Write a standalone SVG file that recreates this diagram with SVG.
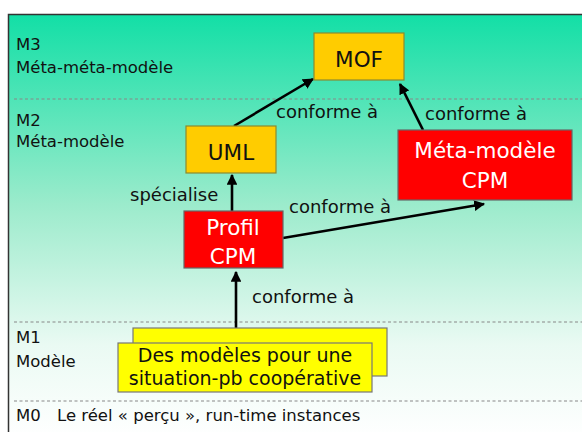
<svg xmlns="http://www.w3.org/2000/svg" width="582" height="432" viewBox="0 0 582 432">
<defs>
<linearGradient id="bg" x1="0" y1="0" x2="0" y2="1">
<stop offset="0" stop-color="#12DFA6"/>
<stop offset="0.45" stop-color="#9CEBCC"/>
<stop offset="0.78" stop-color="#EAFAF3"/>
<stop offset="1" stop-color="#FFFFFF"/>
</linearGradient>
<marker id="ah" viewBox="0 0 10 10" refX="9" refY="5" markerWidth="4.2" markerHeight="4.2" orient="auto" markerUnits="strokeWidth">
<path d="M0,0 L10,5 L0,10 z" fill="#000"/>
</marker>
</defs>
<style>
text{font-family:"DejaVu Sans",Verdana,sans-serif;fill:#111}
.lvl{font-size:16.5px}
.lbl{font-size:18px}
.node{font-size:21.5px;text-anchor:middle}
.w{fill:#fff}
.yel{fill:#FFCC00;stroke:#8A8A30;stroke-width:1.2}
.red{fill:#FF0000;stroke:#666;stroke-width:1.2}
.lem{fill:#FFFF00;stroke:#777;stroke-width:1.2}
.dash{stroke:#888;stroke-width:1.2;stroke-dasharray:3,2.5}
.con{stroke:#000;stroke-width:2.6;fill:none;marker-end:url(#ah)}
</style>
<rect x="0" y="0" width="582" height="432" fill="#fff"/>
<rect x="8" y="14" width="580" height="425" fill="url(#bg)"/>
<path d="M8.5,432 V14.5 H582" fill="none" stroke="#333" stroke-width="1.5"/>
<g id="levels">
<line class="dash" x1="14" y1="99" x2="582" y2="99"/>
<line class="dash" x1="14" y1="322" x2="582" y2="322"/>
<line class="dash" x1="14" y1="401" x2="582" y2="401"/>
<text class="lvl" x="16" y="50">M3</text>
<text class="lvl" x="16" y="73">Méta-méta-modèle</text>
<text class="lvl" x="16" y="126">M2</text>
<text class="lvl" x="16" y="147">Méta-modèle</text>
<text class="lvl" x="16" y="343">M1</text>
<text class="lvl" x="16" y="367">Modèle</text>
<text class="lvl" x="16" y="421">M0</text>
<text class="lvl" x="57" y="421">Le réel « perçu », run-time instances</text>
</g>
<g id="connectors">
<line class="con" x1="234" y1="126" x2="313" y2="79"/>
<line class="con" x1="423" y1="130" x2="400" y2="84"/>
<line class="con" x1="232" y1="211" x2="232" y2="175"/>
<line class="con" x1="283" y1="238" x2="484" y2="204"/>
<line class="con" x1="236" y1="328" x2="236" y2="272"/>
<text class="lbl" x="276" y="118">conforme à</text>
<text class="lbl" x="425" y="120">conforme à</text>
<text class="lbl" x="130" y="201">spécialise</text>
<text class="lbl" x="289" y="213">conforme à</text>
<text class="lbl" x="252" y="303">conforme à</text>
</g>
<g id="mof">
<rect class="yel" x="314" y="33" width="90" height="47"/>
<text class="node" x="359" y="67">MOF</text>
</g>
<g id="uml">
<rect class="yel" x="186" y="126" width="90" height="47"/>
<text class="node" x="231" y="160">UML</text>
</g>
<g id="metamodele-cpm">
<rect class="red" x="398" y="130" width="174" height="70"/>
<text class="node w" x="485" y="158">Méta-modèle</text>
<text class="node w" x="485" y="188">CPM</text>
</g>
<g id="profil-cpm">
<rect class="red" x="184" y="211" width="99" height="57"/>
<text class="node w" x="233" y="235">Profil</text>
<text class="node w" x="233" y="264">CPM</text>
</g>
<g id="modeles">
<rect class="lem" x="133" y="328" width="254" height="48"/>
<rect class="lem" x="118" y="343" width="254" height="49"/>
<text class="lbl" x="245" y="362" style="font-size:19px;text-anchor:middle">Des modèles pour une</text>
<text class="lbl" x="245" y="385" style="font-size:19px;text-anchor:middle">situation-pb coopérative</text>
</g>
</svg>
